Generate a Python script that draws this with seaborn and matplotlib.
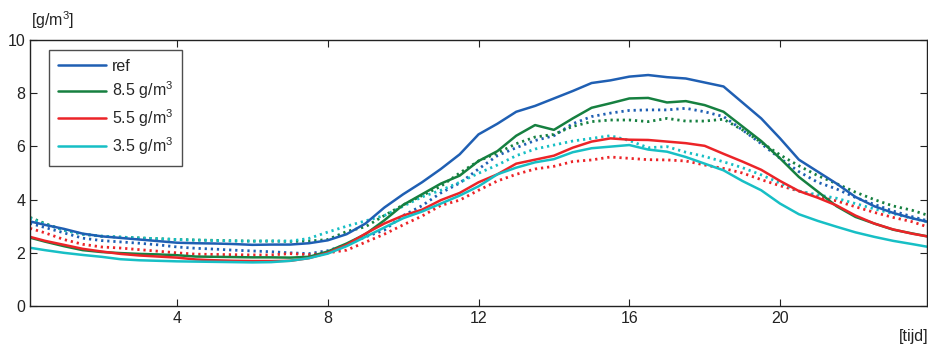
import numpy as np
import pandas as pd
import matplotlib
matplotlib.use("Agg")
import matplotlib.pyplot as plt
import seaborn as sns

# ---- data ----
hours = [0.1, 0.5, 1, 1.5, 2, 2.5, 3, 3.5, 4, 4.5, 5, 5.5, 6, 6.5, 7, 7.5, 8, 8.5,
         9, 9.5, 10, 10.5, 11, 11.5, 12, 12.5, 13, 13.5, 14, 14.5, 15, 15.5, 16, 16.5,
         17, 17.5, 18, 18.5, 19, 19.5, 20, 20.5, 21, 21.5, 22, 22.5, 23, 23.5, 23.9]

ref_solid = [3.18, 3.05, 2.9, 2.72, 2.62, 2.56, 2.5, 2.44, 2.38, 2.36, 2.35, 2.33, 2.3, 2.31, 2.31, 2.36, 2.47, 2.7,
             3.1, 3.7, 4.2, 4.65, 5.15, 5.7, 6.45, 6.85, 7.3, 7.52, 7.8, 8.08, 8.38, 8.48, 8.62, 8.68,
             8.6, 8.55, 8.4, 8.25, 7.65, 7.05, 6.3, 5.5, 5.05, 4.6, 4.1, 3.75, 3.5, 3.3, 3.17]
g85_solid = [2.57, 2.42, 2.25, 2.1, 2.03, 1.99, 1.96, 1.94, 1.91, 1.86, 1.85, 1.84, 1.83, 1.83, 1.82, 1.85, 2.05, 2.35,
             2.7, 3.22, 3.8, 4.2, 4.6, 4.9, 5.45, 5.82, 6.4, 6.8, 6.62, 7.05, 7.45, 7.62, 7.8, 7.82,
             7.65, 7.7, 7.55, 7.3, 6.75, 6.2, 5.55, 4.85, 4.3, 3.75, 3.35, 3.1, 2.87, 2.73, 2.62]
g55_solid = [2.6, 2.45, 2.3, 2.15, 2.05, 1.96, 1.9, 1.86, 1.82, 1.75, 1.72, 1.7, 1.69, 1.69, 1.7, 1.8, 2.0, 2.3,
             2.72, 3.1, 3.4, 3.62, 3.98, 4.25, 4.65, 4.95, 5.35, 5.5, 5.65, 5.95, 6.18, 6.3, 6.25, 6.24,
             6.18, 6.12, 6.02, 5.72, 5.43, 5.12, 4.7, 4.32, 4.07, 3.78, 3.4, 3.1, 2.88, 2.72, 2.62]
g35_solid = [2.19, 2.1, 2.0, 1.92, 1.85, 1.76, 1.72, 1.7, 1.68, 1.67, 1.66, 1.65, 1.64, 1.65, 1.7, 1.8, 1.97, 2.25,
             2.6, 2.95, 3.3, 3.55, 3.85, 4.15, 4.5, 4.95, 5.2, 5.4, 5.52, 5.78, 5.93, 5.99, 6.05, 5.88,
             5.8, 5.6, 5.35, 5.1, 4.7, 4.35, 3.85, 3.45, 3.2, 2.98, 2.77, 2.6, 2.45, 2.33, 2.23]

ref_dot = [3.11, 2.95, 2.75, 2.55, 2.46, 2.41, 2.36, 2.3, 2.22, 2.17, 2.14, 2.1, 2.07, 2.04, 2.0, 1.97, 2.08, 2.3,
           2.6, 2.85, 3.4, 3.77, 4.25, 4.62, 5.15, 5.65, 5.95, 6.22, 6.4, 6.85, 7.12, 7.25, 7.35, 7.37,
           7.37, 7.43, 7.3, 7.12, 6.62, 6.1, 5.55, 5.05, 4.65, 4.4, 4.08, 3.82, 3.57, 3.36, 3.21]
g85_dot = [3.33, 3.1, 2.85, 2.7, 2.62, 2.59, 2.56, 2.53, 2.5, 2.48, 2.47, 2.45, 2.44, 2.44, 2.43, 2.44, 2.5, 2.8,
           2.98, 3.4, 3.8, 4.15, 4.5, 5.0, 5.45, 5.75, 6.1, 6.35, 6.45, 6.75, 6.93, 6.99, 6.99, 6.93,
           7.05, 6.95, 6.95, 7.02, 6.62, 6.15, 5.68, 5.27, 4.9, 4.6, 4.28, 4.0, 3.76, 3.6, 3.42]
g55_dot = [2.92, 2.75, 2.5, 2.32, 2.22, 2.18, 2.12, 2.06, 2.0, 1.95, 1.94, 1.93, 1.92, 1.92, 1.97, 1.93, 2.0, 2.1,
           2.4, 2.7, 3.05, 3.38, 3.78, 3.98, 4.35, 4.7, 4.95, 5.15, 5.25, 5.43, 5.49, 5.6, 5.55, 5.5,
           5.49, 5.45, 5.3, 5.17, 5.0, 4.75, 4.52, 4.32, 4.12, 3.95, 3.73, 3.52, 3.33, 3.17, 2.98]
g35_dot = [3.3, 3.08, 2.85, 2.7, 2.63, 2.59, 2.56, 2.53, 2.5, 2.48, 2.46, 2.45, 2.44, 2.45, 2.44, 2.54, 2.78, 3.0,
           3.2, 3.4, 3.75, 4.1, 4.35, 4.65, 4.99, 5.3, 5.65, 5.9, 6.05, 6.2, 6.3, 6.4, 6.22, 5.95,
           5.99, 5.78, 5.62, 5.42, 5.2, 4.93, 4.62, 4.32, 4.18, 4.05, 3.85, 3.65, 3.47, 3.3, 3.17]

labels = ["ref", "8.5 g/m$^3$", "5.5 g/m$^3$", "3.5 g/m$^3$"]
colors = ["#1f5fb3", "#168040", "#ec2428", "#17bfc5"]
x_ticks = [4, 8, 12, 16, 20]
y_ticks = [0, 2, 4, 6, 8, 10]

solid = [ref_solid, g85_solid, g55_solid, g35_solid]
dotted = [ref_dot, g85_dot, g55_dot, g35_dot]

# ---- style ----
sns.set_style("ticks")
plt.rcParams["font.family"] = ["Liberation Sans", "DejaVu Sans"]
plt.rcParams["mathtext.default"] = "regular"

fig = plt.figure(figsize=(9.29, 3.47), dpi=100)
ax = fig.add_axes([0.0323, 0.118, 0.9656, 0.767])

# dotted first (under), then solid
for vals, c in zip(dotted, colors):
    df = pd.DataFrame({"t": hours, "v": vals})
    sns.lineplot(data=df, x="t", y="v", ax=ax, color=c, linewidth=2.0,
                 linestyle=(0, (0.8, 1.4)), legend=False)
handles = []
for vals, c, lab in zip(solid, colors, labels):
    df = pd.DataFrame({"t": hours, "v": vals})
    sns.lineplot(data=df, x="t", y="v", ax=ax, color=c, linewidth=1.8, legend=False)
    handles.append(ax.lines[-1])

ax.set_xlim(0.1, 23.9)
ax.set_ylim(0, 10)
ax.set_xticks(x_ticks)
ax.set_yticks(y_ticks)
ax.set_xlabel("")
ax.set_ylabel("")
ax.tick_params(direction="in", length=5, width=0.8, labelsize=11.5,
               top=True, right=True, colors="#222222", labelcolor="#222222")
for s in ax.spines.values():
    s.set_linewidth(1.0)
    s.set_color("#222222")

leg = ax.legend(handles, labels, loc="upper left", bbox_to_anchor=(0.021, 0.963),
                fontsize=11.5, frameon=True, fancybox=False, handlelength=3.0,
                handletextpad=0.4, borderpad=0.55, labelspacing=0.38, borderaxespad=0)
leg.get_frame().set_edgecolor("#222222")
leg.get_frame().set_linewidth(1.0)

fig.text(0.033, 0.912, "[g/m$^3$]", fontsize=11.5, color="#222222", ha="left", va="bottom")
fig.text(0.999, 0.01, "[tijd]", fontsize=11.5, color="#222222", ha="right", va="bottom")

fig.savefig("out.png", dpi=100)
